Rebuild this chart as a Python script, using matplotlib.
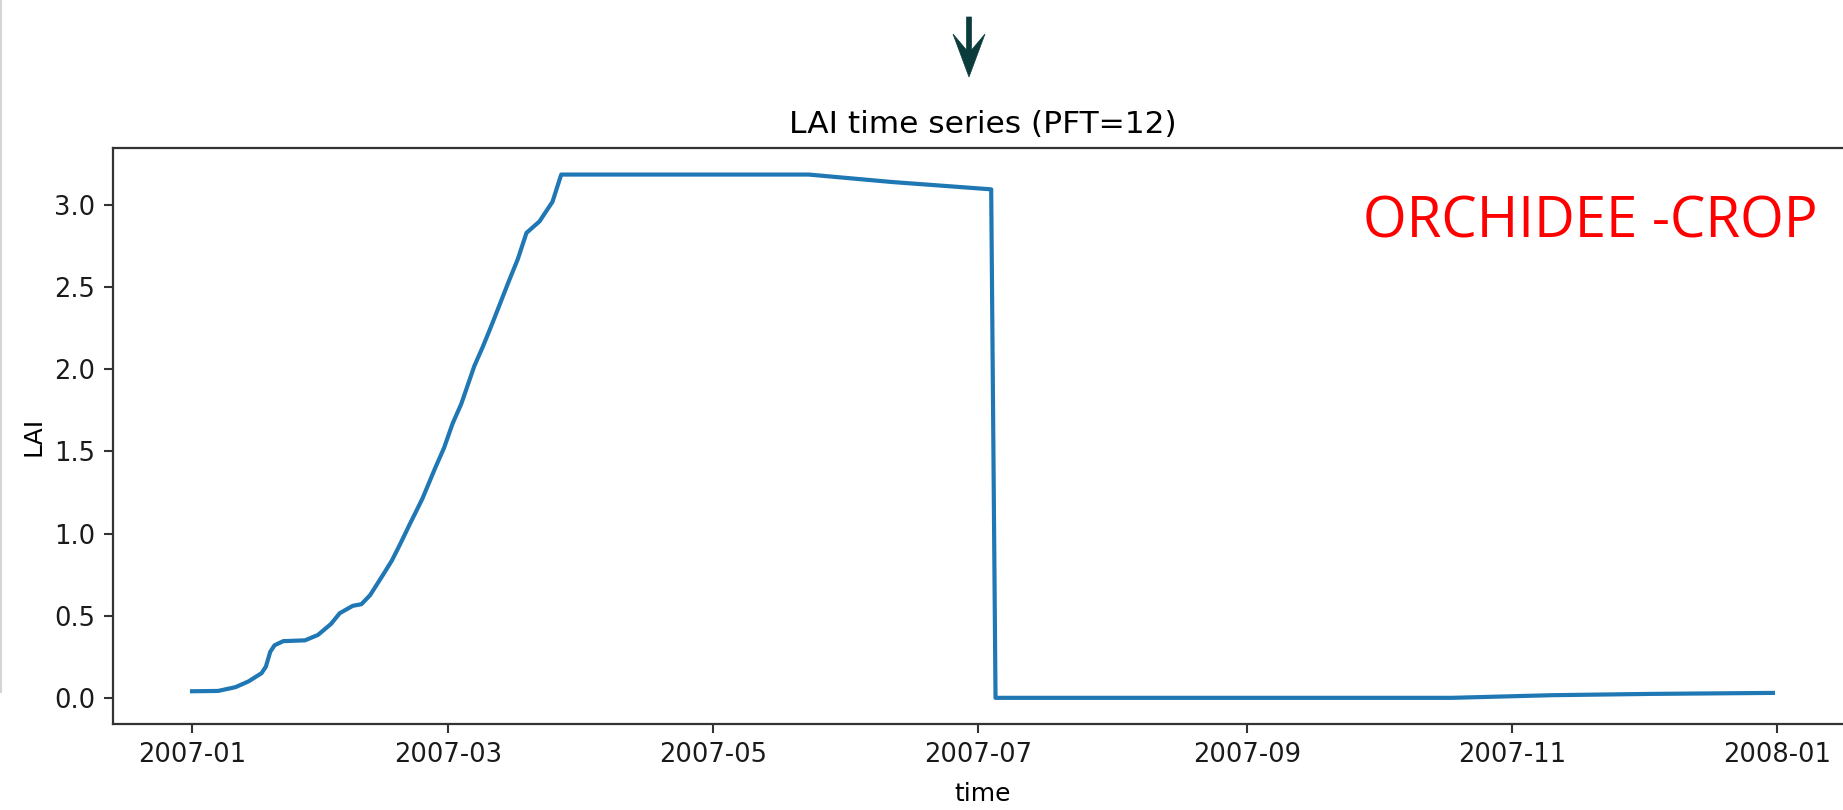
import pandas as pd
import matplotlib
matplotlib.use("Agg")
import matplotlib.pyplot as plt
import matplotlib.dates as mdates
from matplotlib.lines import Line2D
from matplotlib.patches import Polygon

# LAI (PFT=12, year 2007)
dates = ["2007-01-01", "2007-01-07", "2007-01-11", "2007-01-14", "2007-01-17",
         "2007-01-18", "2007-01-19", "2007-01-20", "2007-01-22", "2007-01-27",
         "2007-01-30", "2007-02-02", "2007-02-04", "2007-02-07", "2007-02-09",
         "2007-02-11", "2007-02-14", "2007-02-16", "2007-02-18", "2007-02-20",
         "2007-02-23", "2007-02-26", "2007-02-28", "2007-03-02", "2007-03-04",
         "2007-03-07", "2007-03-09", "2007-03-11", "2007-03-15", "2007-03-17",
         "2007-03-19", "2007-03-22", "2007-03-25", "2007-03-27", "2007-05-23",
         "2007-06-11", "2007-07-04", "2007-07-05", "2007-10-18", "2007-11-10",
         "2007-12-03", "2007-12-31"]
lai = [0.04, 0.042, 0.065, 0.10, 0.15,
       0.19, 0.28, 0.32, 0.345, 0.35,
       0.383, 0.45, 0.515, 0.56, 0.57,
       0.625, 0.75, 0.835, 0.94, 1.05,
       1.21, 1.40, 1.52, 1.67, 1.79,
       2.02, 2.14, 2.27, 2.54, 2.67,
       2.83, 2.90, 3.02, 3.185, 3.185,
       3.14, 3.095, 0.0, 0.0, 0.016,
       0.024, 0.030]

tick_months = [1, 3, 5, 7, 9, 11]

W, H = 1843, 810
fig = plt.figure(figsize=(W / 100, H / 100), dpi=100)
fig.patch.set_facecolor("white")

# axes runs past the right edge (cropped screenshot)
left, right, top, bottom = 113, 1852, 148.4, 724
ax = fig.add_axes([left / W, 1 - bottom / H, (right - left) / W, (bottom - top) / H])

t = pd.to_datetime(dates)
ax.plot(t, lai, color="#1f77b4", lw=3.0, solid_joinstyle="round")

ax.set_title("LAI time series (PFT=12)", fontsize=22.5, pad=11)
ax.set_xlabel("time", fontsize=18, labelpad=10)
ax.set_ylabel("LAI", fontsize=18, labelpad=6)
ax.xaxis.set_major_locator(mdates.MonthLocator(bymonth=tick_months))
ax.xaxis.set_major_formatter(mdates.DateFormatter("%Y-%m"))
ax.set_yticks([0.0, 0.5, 1.0, 1.5, 2.0, 2.5, 3.0])
ax.tick_params(labelsize=18.5, length=6.5, width=1.5, pad=6.5, color="#333333",
               labelcolor="#1a1a1a")
for s in ax.spines.values():
    s.set_linewidth(1.6)
    s.set_color("#333333")

# red annotation
fig.text(1363 / W, 1 - 238 / H, "ORCHIDEE -CROP", color="#ff0000",
         fontsize=40.5, family=["Open Sans", "DejaVu Sans"], va="baseline")

# down arrow above the title
px = lambda x, y: (x / W, 1 - y / H)
arrow = [px(966.5, 17), px(966.5, 50), px(953, 34), px(969, 77),
         px(985, 34), px(971.5, 50), px(971.5, 17)]
fig.patches.append(Polygon(arrow, closed=True, transform=fig.transFigure,
                           facecolor="#0c3b3b", edgecolor="#0c3b3b", lw=0.5))

# thin grey edge left by the crop
fig.add_artist(Line2D([0.5 / W, 0.5 / W], [1, 1 - 692 / H], color="#d5d5d5", lw=1.5))

fig.savefig("out.png", dpi=100)
